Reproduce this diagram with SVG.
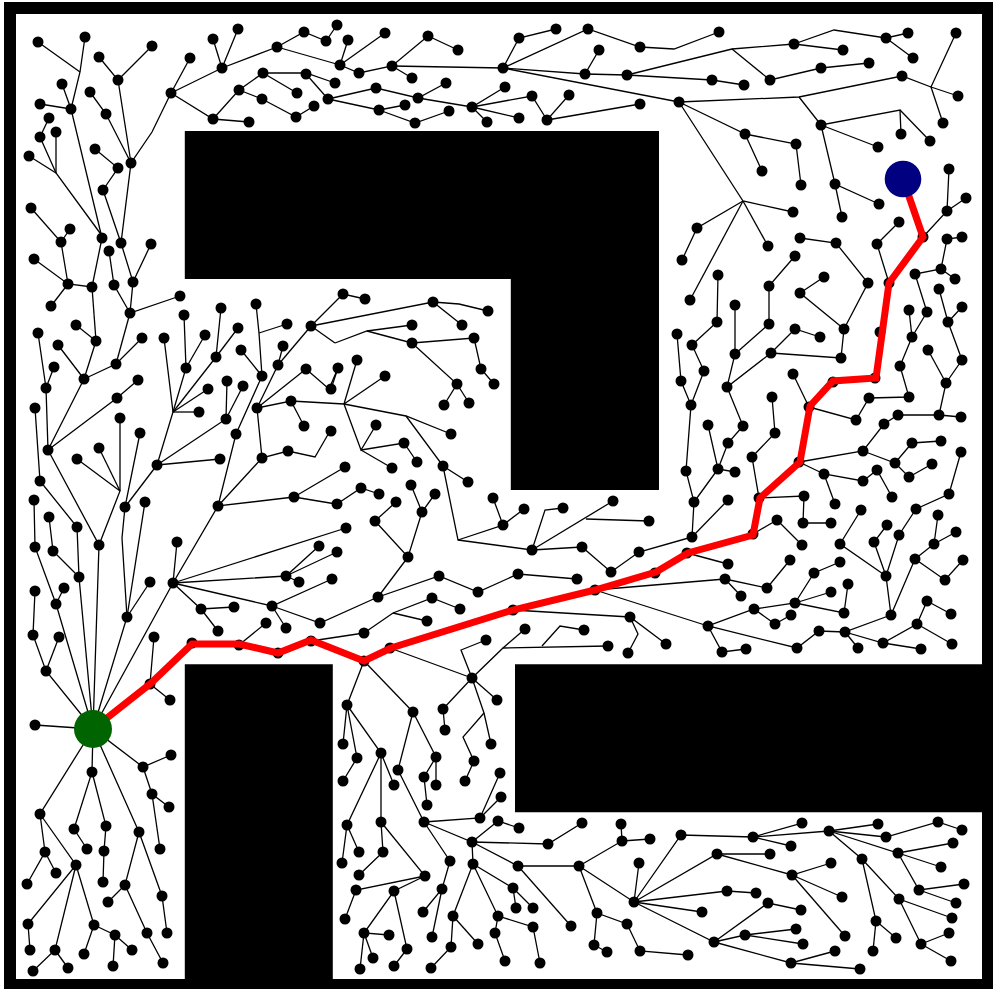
<svg xmlns="http://www.w3.org/2000/svg" width="993" height="989" viewBox="0 0 993 989">
<style>
#edges path{fill:none;stroke:#000;stroke-width:1.3}
.n circle{fill:#000}
#solution path{fill:none;stroke:#f00;stroke-width:7;stroke-linejoin:miter}
</style>
<rect width="993" height="989" fill="#fff"/>
<g id="obstacles">
<path fill="#000" fill-rule="evenodd" d="M4 2H993V989H4ZM16 14V979H982V14Z"/>
<path fill="#000" d="M184.8 131H659V490H510.8V279H184.8Z"/>
<path fill="#000" d="M184.8 664.3H332.8V979H184.8Z"/>
<path fill="#000" d="M515 664.3H993V812.3H515Z"/>
</g>
<g id="edges">
<path d="M38 42L80 72"/><path d="M85 37L80 72L71 109L102 238"/><path d="M99 57L118 80L131 163"/><path d="M152 46L118 80"/>
<path d="M62 84L71 109"/><path d="M40 104L71 109"/><path d="M90 92L106 114L131 163"/><path d="M49 118L40 137L56 173L100 233"/><path d="M56 132V173"/><path d="M29 156L56 173"/>
<path d="M95 149L118 168L103 190L121 243L131 163L152 132L171 93"/><path d="M171 93L190 58"/><path d="M171 93L222 68L277 47L304 32L326 41L337 25"/><path d="M171 93L213 119L249 122"/><path d="M222 68L213 39"/><path d="M222 68L238 29"/><path d="M277 47L340 65"/>
<path d="M213 119L239 90L263 73L297 93"/><path d="M239 90L262 99L296 117L314 106"/><path d="M263 73H306L335 83"/><path d="M306 74L328 99"/>
<path d="M31 208L61 242L68 284"/><path d="M70 229L61 242"/><path d="M34 259L68 284L92 287L102 238"/><path d="M51 306L68 284"/><path d="M92 287L96 341"/><path d="M109 251L114 285L130 313"/><path d="M121 243L133 282L130 313L180 296"/><path d="M151 244L133 282"/>
<path d="M38 333L46 388L48 450"/><path d="M54 367L46 388"/><path d="M35 408L40 481L77 527L79 577L93 729"/><path d="M58 345L84 379L96 341"/><path d="M76 325L96 341"/><path d="M84 379L116 364L142 338"/><path d="M116 364L130 313"/><path d="M84 379L48 450L117 398L138 380"/><path d="M48 450L99 545L93 729"/>
<path d="M120 418V491L99 545"/><path d="M77 459L120 491"/><path d="M99 448L120 491"/><path d="M140 433L125 507L122 538L127 617L93 729"/><path d="M157 465L125 507"/><path d="M145 502L127 617"/><path d="M150 582L127 617"/>
<path d="M34 500L35 547L56 604L93 729"/><path d="M49 517L53 551L79 577"/><path d="M35 591L33 635L46 671L93 729"/><path d="M59 637L46 671"/><path d="M64 588L56 604"/><path d="M154 637L150 684L170 700"/>
<path d="M164 338L173 412L157 465"/><path d="M184 315L186 368L173 412"/><path d="M205 335L186 368"/><path d="M216 357L173 412"/><path d="M221 308L216 357"/><path d="M238 328L216 357"/><path d="M208 389L173 412"/><path d="M199 412H173"/>
<path d="M157 465L226 419L227 381"/><path d="M243 386L226 419"/><path d="M157 465L220 459"/><path d="M241 350L262 376"/><path d="M256 304L259 333L262 376L236 434L218 506L173 583L93 729"/><path d="M259 333L287 324"/>
<path d="M283 346L278 365L257 408"/><path d="M311 326L278 365"/><path d="M306 369L257 408"/><path d="M306 369L329 389L338 368"/><path d="M257 408L291 401L304 426"/><path d="M291 401L344 404"/><path d="M257 408L262 458L288 451L315 457L330 431"/><path d="M262 458L218 506L294 497L336 504"/><path d="M294 497L345 467"/>
<path d="M173 583L177 542"/><path d="M173 583L286 576L319 546"/><path d="M286 576L337 552"/><path d="M299 582L286 576"/><path d="M173 583L272 606L332 579"/><path d="M272 606L320 623L378 597"/><path d="M173 583L346 528"/><path d="M173 583L201 609L234 607"/><path d="M201 609L218 631"/><path d="M266 623L239 645"/><path d="M286 628L272 606"/><path d="M311 641L364 633"/>
<path d="M311 326L343 294L365 299"/><path d="M311 326L433 302L462 325"/><path d="M433 302L459 304L488 311"/><path d="M335 343L311 326"/><path d="M335 343L367 331L412 325"/><path d="M367 331L412 343L474 338L481 369L494 384"/><path d="M412 343L457 384L444 405"/><path d="M457 384L469 403"/>
<path d="M344 404L357 360"/><path d="M344 404L385 376"/><path d="M344 404L406 416L451 434"/><path d="M406 416L443 466L468 482"/><path d="M443 466L458 540L503 525L493 498"/><path d="M503 525L524 509"/><path d="M458 540L532 550L545 510L563 508"/><path d="M532 550L613 501"/><path d="M586 519L649 521"/><path d="M532 550L582 547L611 572L639 552L692 537"/>
<path d="M344 404L361 450L376 425"/><path d="M361 450L404 443L417 462"/><path d="M361 450L392 468"/><path d="M337 504L361 488L379 494"/><path d="M331 389L338 368"/>
<path d="M411 485L422 512L435 494"/><path d="M422 512L408 557L375 521L396 502"/><path d="M408 557L378 597L439 576L478 592L518 574L577 579"/><path d="M364 633L393 613L432 598L460 609"/><path d="M393 613L427 621"/>
<path d="M595 590L725 579"/><path d="M595 590L708 626"/><path d="M513 610L630 617L666 644"/><path d="M630 617L638 634L628 653"/><path d="M584 630L560 626L542 646"/><path d="M608 646L503 648L472 678"/><path d="M525 629L503 648"/><path d="M486 640L461 650L472 678"/><path d="M390 648L472 678"/>
<path d="M364 661L347 705L343 744"/><path d="M364 661L413 712"/><path d="M347 705L357 758L343 781"/><path d="M347 705L381 753L394 785"/><path d="M381 753L347 825L342 863"/><path d="M347 825L359 852"/><path d="M381 753V822L383 852L359 875"/><path d="M381 822L425 876L356 890L345 919"/><path d="M425 876L394 891L364 933L389 935"/><path d="M364 933L373 958"/><path d="M364 933L360 969"/><path d="M394 891L407 949L394 966"/>
<path d="M413 712L398 770L424 822"/><path d="M413 712L436 757L436 785"/><path d="M436 757L424 777L427 805"/><path d="M424 822L480 818L500 773"/><path d="M480 818L501 797"/><path d="M424 822L472 842L498 821L519 828"/><path d="M424 822L450 861L442 889L423 912"/><path d="M442 889L432 937"/>
<path d="M472 842L548 844L582 823"/><path d="M472 842L518 866H579"/><path d="M518 866L571 926"/><path d="M472 842L473 864L453 916L451 947L431 968"/><path d="M473 864L513 888L516 908"/><path d="M513 888L533 908"/><path d="M473 864L498 916L495 933L505 961"/><path d="M498 916L533 927L540 963"/><path d="M453 916L478 944"/>
<path d="M472 678L443 709L445 730"/><path d="M472 678L497 700"/><path d="M472 678L484 713L491 744"/><path d="M484 713L463 737L474 761L465 781"/>
<path d="M579 866L622 841L621 824"/><path d="M622 841L650 839"/><path d="M579 866L634 902L639 863"/><path d="M579 866L597 913L627 924L640 951L688 955"/><path d="M597 913L594 945L607 952"/>
<path d="M634 902L681 835L753 837L802 823"/><path d="M753 837L791 846"/><path d="M753 837L829 831L878 824"/><path d="M829 831L886 837L938 822L962 830"/><path d="M829 831L898 853L953 843"/><path d="M898 853L941 867"/><path d="M898 853L919 890L964 884"/><path d="M919 890L956 903"/><path d="M829 831L862 859L899 899L952 918"/><path d="M899 899L921 944L949 933"/><path d="M921 944L951 961"/><path d="M862 859L876 921L896 938"/><path d="M876 921L873 951"/>
<path d="M634 902L717 854H770"/><path d="M717 854L792 875L831 863"/><path d="M792 875L842 897"/><path d="M792 875L845 936"/><path d="M634 902L727 891L756 893"/><path d="M634 902L702 912"/><path d="M634 902L714 942L768 903L801 910"/><path d="M714 942L745 935L796 929"/><path d="M745 935L803 944"/><path d="M714 942L791 963L835 951"/><path d="M791 963L860 969"/>
<path d="M35 725L93 729L143 767L171 755"/><path d="M143 767L152 794L169 807"/><path d="M152 794L160 849"/><path d="M93 729L92 772L74 829L87 849"/><path d="M92 772L106 826L104 851L103 882"/><path d="M93 729L139 832L125 885L108 902"/><path d="M139 832L162 896L167 933"/><path d="M125 885L147 933L163 963"/>
<path d="M93 729L40 814L45 852L27 884"/><path d="M45 852L56 873"/><path d="M40 814L76 865L28 924L30 950"/><path d="M76 865L55 950L33 971"/><path d="M55 950L68 968"/><path d="M76 865L94 925L84 954"/><path d="M94 925L115 935L132 950"/><path d="M115 935L113 966"/>
<path d="M340 65L348 40"/><path d="M340 65L385 33"/><path d="M340 65L359 73L392 66L428 36L458 50"/><path d="M392 66L412 78"/><path d="M392 66L503 68L519 38L556 29"/><path d="M503 68L588 29L640 47L674 49L719 32"/><path d="M503 68L585 74L599 50"/><path d="M585 74L627 75L732 49L794 44L843 50"/><path d="M627 75L712 80L744 85"/><path d="M503 68L679 102"/>
<path d="M328 99L376 88L418 98L446 83"/><path d="M418 98L472 107L505 87"/><path d="M328 99L379 110L405 105"/><path d="M379 110L415 123L449 111"/><path d="M472 107L532 96L547 120L569 95"/><path d="M472 107L519 118"/><path d="M472 107L487 122"/><path d="M547 120L640 104"/>
<path d="M679 102L745 134L762 171"/><path d="M745 134L796 144L801 185"/><path d="M679 102L743 201L793 212"/><path d="M743 201L768 246"/><path d="M743 201L697 228L682 260"/><path d="M743 201L690 300"/><path d="M679 102L799 97L902 76L931 87L956 33"/><path d="M931 87L958 96"/><path d="M931 87L943 123"/>
<path d="M732 49L770 80L821 68L869 63"/><path d="M794 44L834 30L886 38L908 33"/><path d="M886 38L913 58"/><path d="M799 97L821 125L900 110L901 134"/><path d="M900 110L930 141"/><path d="M821 125L878 147"/><path d="M821 125L835 184L879 204"/><path d="M835 184L842 217"/>
<path d="M949 169L947 211L923 237"/><path d="M966 198L947 211"/><path d="M899 222L877 244L889 283"/><path d="M800 238L836 243L868 283L844 329L800 293L824 277"/><path d="M795 256L769 286V324L735 354"/><path d="M718 275L717 322L692 345L704 371L691 405"/><path d="M735 305V354L727 387L771 353L795 329L820 337"/><path d="M677 334L681 381L691 405L686 471L694 502L692 537"/>
<path d="M962 237L947 239L941 269L915 274L927 312L912 337L900 366L909 397L869 398L856 420L809 407"/><path d="M941 269L955 279"/><path d="M909 310L912 337"/><path d="M939 289L948 322L962 360L946 383L939 415"/><path d="M962 307L948 322"/><path d="M928 350L946 383"/>
<path d="M708 425L718 469L694 502"/><path d="M743 426L728 443L718 469L735 472"/><path d="M727 387L743 426"/><path d="M728 500L692 537"/><path d="M771 353L841 358L844 329"/><path d="M793 374L809 407"/><path d="M772 397L775 433L752 457L759 498L804 496L803 523H831"/><path d="M777 520L753 534"/><path d="M777 520L802 545"/>
<path d="M799 462L824 474L863 481L877 470L892 497"/><path d="M824 474L835 504"/><path d="M799 462L863 451L884 424L898 415H939L961 417"/><path d="M863 451L895 463L912 443L941 441"/><path d="M895 463L909 477L932 464"/>
<path d="M961 452L949 494L916 509L899 535L886 576L891 615L915 559L945 580L963 560"/><path d="M887 525L874 542L886 576"/><path d="M861 510L840 544L886 576"/><path d="M938 515L934 544L915 559"/><path d="M956 532L934 544"/><path d="M927 601L917 624L883 643L845 632L891 615"/><path d="M951 614L927 601"/><path d="M917 624L952 644"/><path d="M883 643L921 649"/><path d="M845 632L858 648"/><path d="M845 632L819 631L797 648L708 626L754 609L795 603L814 573L840 562"/><path d="M708 626L722 652L746 649"/><path d="M754 609L775 624L791 615"/><path d="M795 603L831 592"/><path d="M795 603L844 613L848 584"/><path d="M725 579L741 596"/><path d="M725 579L767 588L790 560"/><path d="M687 553L728 564"/>
</g>
<g id="nodes">
<g class="n" id="n38-42"><circle cx="38" cy="42" r="5.5"/></g><g class="n" id="n85-37"><circle cx="85" cy="37" r="5.5"/></g><g class="n" id="n71-109"><circle cx="71" cy="109" r="5.5"/></g><g class="n" id="n99-57"><circle cx="99" cy="57" r="5.5"/></g><g class="n" id="n152-46"><circle cx="152" cy="46" r="5.5"/></g><g class="n" id="n118-80"><circle cx="118" cy="80" r="5.5"/></g><g class="n" id="n131-163"><circle cx="131" cy="163" r="5.5"/></g><g class="n" id="n62-84"><circle cx="62" cy="84" r="5.5"/></g><g class="n" id="n40-104"><circle cx="40" cy="104" r="5.5"/></g><g class="n" id="n102-238"><circle cx="102" cy="238" r="5.5"/></g><g class="n" id="n90-92"><circle cx="90" cy="92" r="5.5"/></g><g class="n" id="n106-114"><circle cx="106" cy="114" r="5.5"/></g><g class="n" id="n49-118"><circle cx="49" cy="118" r="5.5"/></g><g class="n" id="n40-137"><circle cx="40" cy="137" r="5.5"/></g><g class="n" id="n56-132"><circle cx="56" cy="132" r="5.5"/></g><g class="n" id="n29-156"><circle cx="29" cy="156" r="5.5"/></g><g class="n" id="n95-149"><circle cx="95" cy="149" r="5.5"/></g><g class="n" id="n118-168"><circle cx="118" cy="168" r="5.5"/></g><g class="n" id="n103-190"><circle cx="103" cy="190" r="5.5"/></g><g class="n" id="n121-243"><circle cx="121" cy="243" r="5.5"/></g><g class="n" id="n171-93"><circle cx="171" cy="93" r="5.5"/></g><g class="n" id="n190-58"><circle cx="190" cy="58" r="5.5"/></g><g class="n" id="n222-68"><circle cx="222" cy="68" r="5.5"/></g><g class="n" id="n213-119"><circle cx="213" cy="119" r="5.5"/></g><g class="n" id="n213-39"><circle cx="213" cy="39" r="5.5"/></g><g class="n" id="n238-29"><circle cx="238" cy="29" r="5.5"/></g><g class="n" id="n277-47"><circle cx="277" cy="47" r="5.5"/></g><g class="n" id="n304-32"><circle cx="304" cy="32" r="5.5"/></g><g class="n" id="n340-65"><circle cx="340" cy="65" r="5.5"/></g><g class="n" id="n326-41"><circle cx="326" cy="41" r="5.5"/></g><g class="n" id="n337-25"><circle cx="337" cy="25" r="5.5"/></g><g class="n" id="n249-122"><circle cx="249" cy="122" r="5.5"/></g><g class="n" id="n239-90"><circle cx="239" cy="90" r="5.5"/></g><g class="n" id="n263-73"><circle cx="263" cy="73" r="5.5"/></g><g class="n" id="n262-99"><circle cx="262" cy="99" r="5.5"/></g><g class="n" id="n296-117"><circle cx="296" cy="117" r="5.5"/></g><g class="n" id="n314-106"><circle cx="314" cy="106" r="5.5"/></g><g class="n" id="n297-93"><circle cx="297" cy="93" r="5.5"/></g><g class="n" id="n306-74"><circle cx="306" cy="74" r="5.5"/></g><g class="n" id="n335-83"><circle cx="335" cy="83" r="5.5"/></g><g class="n" id="n328-99"><circle cx="328" cy="99" r="5.5"/></g><g class="n" id="n31-208"><circle cx="31" cy="208" r="5.5"/></g><g class="n" id="n61-242"><circle cx="61" cy="242" r="5.5"/></g><g class="n" id="n70-229"><circle cx="70" cy="229" r="5.5"/></g><g class="n" id="n68-284"><circle cx="68" cy="284" r="5.5"/></g><g class="n" id="n34-259"><circle cx="34" cy="259" r="5.5"/></g><g class="n" id="n51-306"><circle cx="51" cy="306" r="5.5"/></g><g class="n" id="n92-287"><circle cx="92" cy="287" r="5.5"/></g><g class="n" id="n109-251"><circle cx="109" cy="251" r="5.5"/></g><g class="n" id="n114-285"><circle cx="114" cy="285" r="5.5"/></g><g class="n" id="n130-313"><circle cx="130" cy="313" r="5.5"/></g><g class="n" id="n133-282"><circle cx="133" cy="282" r="5.5"/></g><g class="n" id="n151-244"><circle cx="151" cy="244" r="5.5"/></g><g class="n" id="n180-296"><circle cx="180" cy="296" r="5.5"/></g>
<g class="n" id="n184-315"><circle cx="184" cy="315" r="5.5"/></g><g class="n" id="n221-308"><circle cx="221" cy="308" r="5.5"/></g><g class="n" id="n238-328"><circle cx="238" cy="328" r="5.5"/></g><g class="n" id="n256-304"><circle cx="256" cy="304" r="5.5"/></g><g class="n" id="n287-324"><circle cx="287" cy="324" r="5.5"/></g><g class="n" id="n311-326"><circle cx="311" cy="326" r="5.5"/></g><g class="n" id="n205-335"><circle cx="205" cy="335" r="5.5"/></g><g class="n" id="n164-338"><circle cx="164" cy="338" r="5.5"/></g><g class="n" id="n142-338"><circle cx="142" cy="338" r="5.5"/></g><g class="n" id="n76-325"><circle cx="76" cy="325" r="5.5"/></g><g class="n" id="n38-333"><circle cx="38" cy="333" r="5.5"/></g><g class="n" id="n46-388"><circle cx="46" cy="388" r="5.5"/></g><g class="n" id="n54-367"><circle cx="54" cy="367" r="5.5"/></g><g class="n" id="n48-450"><circle cx="48" cy="450" r="5.5"/></g><g class="n" id="n35-408"><circle cx="35" cy="408" r="5.5"/></g><g class="n" id="n40-481"><circle cx="40" cy="481" r="5.5"/></g><g class="n" id="n77-527"><circle cx="77" cy="527" r="5.5"/></g><g class="n" id="n79-577"><circle cx="79" cy="577" r="5.5"/></g><g class="n" id="n58-345"><circle cx="58" cy="345" r="5.5"/></g><g class="n" id="n84-379"><circle cx="84" cy="379" r="5.5"/></g><g class="n" id="n96-341"><circle cx="96" cy="341" r="5.5"/></g><g class="n" id="n116-364"><circle cx="116" cy="364" r="5.5"/></g><g class="n" id="n117-398"><circle cx="117" cy="398" r="5.5"/></g><g class="n" id="n138-380"><circle cx="138" cy="380" r="5.5"/></g><g class="n" id="n99-545"><circle cx="99" cy="545" r="5.5"/></g><g class="n" id="n120-418"><circle cx="120" cy="418" r="5.5"/></g><g class="n" id="n77-459"><circle cx="77" cy="459" r="5.5"/></g><g class="n" id="n99-448"><circle cx="99" cy="448" r="5.5"/></g><g class="n" id="n140-433"><circle cx="140" cy="433" r="5.5"/></g><g class="n" id="n125-507"><circle cx="125" cy="507" r="5.5"/></g><g class="n" id="n157-465"><circle cx="157" cy="465" r="5.5"/></g><g class="n" id="n127-617"><circle cx="127" cy="617" r="5.5"/></g><g class="n" id="n145-502"><circle cx="145" cy="502" r="5.5"/></g><g class="n" id="n150-582"><circle cx="150" cy="582" r="5.5"/></g><g class="n" id="n34-500"><circle cx="34" cy="500" r="5.5"/></g><g class="n" id="n35-547"><circle cx="35" cy="547" r="5.5"/></g><g class="n" id="n56-604"><circle cx="56" cy="604" r="5.5"/></g><g class="n" id="n49-517"><circle cx="49" cy="517" r="5.5"/></g><g class="n" id="n53-551"><circle cx="53" cy="551" r="5.5"/></g><g class="n" id="n35-591"><circle cx="35" cy="591" r="5.5"/></g><g class="n" id="n33-635"><circle cx="33" cy="635" r="5.5"/></g><g class="n" id="n46-671"><circle cx="46" cy="671" r="5.5"/></g><g class="n" id="n59-637"><circle cx="59" cy="637" r="5.5"/></g><g class="n" id="n64-588"><circle cx="64" cy="588" r="5.5"/></g><g class="n" id="n154-637"><circle cx="154" cy="637" r="5.5"/></g><g class="n" id="n150-684"><circle cx="150" cy="684" r="5.5"/></g><g class="n" id="n170-700"><circle cx="170" cy="700" r="5.5"/></g><g class="n" id="n186-368"><circle cx="186" cy="368" r="5.5"/></g><g class="n" id="n216-357"><circle cx="216" cy="357" r="5.5"/></g><g class="n" id="n208-389"><circle cx="208" cy="389" r="5.5"/></g><g class="n" id="n199-412"><circle cx="199" cy="412" r="5.5"/></g><g class="n" id="n226-419"><circle cx="226" cy="419" r="5.5"/></g><g class="n" id="n227-381"><circle cx="227" cy="381" r="5.5"/></g><g class="n" id="n243-386"><circle cx="243" cy="386" r="5.5"/></g><g class="n" id="n220-459"><circle cx="220" cy="459" r="5.5"/></g><g class="n" id="n241-350"><circle cx="241" cy="350" r="5.5"/></g><g class="n" id="n262-376"><circle cx="262" cy="376" r="5.5"/></g><g class="n" id="n236-434"><circle cx="236" cy="434" r="5.5"/></g><g class="n" id="n218-506"><circle cx="218" cy="506" r="5.5"/></g><g class="n" id="n283-346"><circle cx="283" cy="346" r="5.5"/></g><g class="n" id="n278-365"><circle cx="278" cy="365" r="5.5"/></g><g class="n" id="n257-408"><circle cx="257" cy="408" r="5.5"/></g><g class="n" id="n306-369"><circle cx="306" cy="369" r="5.5"/></g><g class="n" id="n329-389"><circle cx="331" cy="389" r="5.5"/></g><g class="n" id="n338-368"><circle cx="338" cy="368" r="5.5"/></g><g class="n" id="n291-401"><circle cx="291" cy="401" r="5.5"/></g><g class="n" id="n304-426"><circle cx="304" cy="426" r="5.5"/></g><g class="n" id="n262-458"><circle cx="262" cy="458" r="5.5"/></g><g class="n" id="n288-451"><circle cx="288" cy="451" r="5.5"/></g><g class="n" id="n330-431"><circle cx="331" cy="431" r="5.5"/></g><g class="n" id="n294-497"><circle cx="294" cy="497" r="5.5"/></g><g class="n" id="n336-504"><circle cx="337" cy="504" r="5.5"/></g><g class="n" id="n345-467"><circle cx="345" cy="467" r="5.5"/></g><g class="n" id="n173-583"><circle cx="173" cy="583" r="5.5"/></g><g class="n" id="n177-542"><circle cx="177" cy="542" r="5.5"/></g><g class="n" id="n286-576"><circle cx="286" cy="576" r="5.5"/></g><g class="n" id="n272-606"><circle cx="272" cy="606" r="5.5"/></g><g class="n" id="n201-609"><circle cx="201" cy="609" r="5.5"/></g><g class="n" id="n346-528"><circle cx="346" cy="528" r="5.5"/></g><g class="n" id="n319-546"><circle cx="319" cy="546" r="5.5"/></g><g class="n" id="n337-552"><circle cx="337" cy="552" r="5.5"/></g><g class="n" id="n299-582"><circle cx="299" cy="582" r="5.5"/></g><g class="n" id="n332-579"><circle cx="332" cy="579" r="5.5"/></g><g class="n" id="n320-623"><circle cx="320" cy="623" r="5.5"/></g><g class="n" id="n234-607"><circle cx="234" cy="607" r="5.5"/></g><g class="n" id="n218-631"><circle cx="218" cy="631" r="5.5"/></g><g class="n" id="n266-623"><circle cx="266" cy="623" r="5.5"/></g><g class="n" id="n286-628"><circle cx="286" cy="628" r="5.5"/></g><g class="n" id="n192-643"><circle cx="192" cy="643" r="5.5"/></g><g class="n" id="n239-645"><circle cx="239" cy="645" r="5.5"/></g><g class="n" id="n278-653"><circle cx="278" cy="653" r="5.5"/></g><g class="n" id="n311-641"><circle cx="311" cy="641" r="5.5"/></g>
<g class="n" id="n412-343"><circle cx="412" cy="343" r="5.5"/></g><g class="n" id="n474-338"><circle cx="474" cy="338" r="5.5"/></g><g class="n" id="n481-369"><circle cx="481" cy="369" r="5.5"/></g><g class="n" id="n494-384"><circle cx="494" cy="384" r="5.5"/></g><g class="n" id="n457-384"><circle cx="457" cy="384" r="5.5"/></g><g class="n" id="n444-405"><circle cx="444" cy="405" r="5.5"/></g><g class="n" id="n469-403"><circle cx="469" cy="403" r="5.5"/></g><g class="n" id="n412-325"><circle cx="412" cy="325" r="5.5"/></g><g class="n" id="n433-302"><circle cx="433" cy="302" r="5.5"/></g><g class="n" id="n462-325"><circle cx="462" cy="325" r="5.5"/></g><g class="n" id="n488-311"><circle cx="488" cy="311" r="5.5"/></g><g class="n" id="n343-294"><circle cx="343" cy="294" r="5.5"/></g><g class="n" id="n365-299"><circle cx="365" cy="299" r="5.5"/></g><g class="n" id="n357-360"><circle cx="357" cy="360" r="5.5"/></g><g class="n" id="n385-376"><circle cx="385" cy="376" r="5.5"/></g><g class="n" id="n451-434"><circle cx="451" cy="434" r="5.5"/></g><g class="n" id="n443-466"><circle cx="443" cy="466" r="5.5"/></g><g class="n" id="n468-482"><circle cx="468" cy="482" r="5.5"/></g><g class="n" id="n503-525"><circle cx="503" cy="525" r="5.5"/></g><g class="n" id="n493-498"><circle cx="493" cy="498" r="5.5"/></g><g class="n" id="n524-509"><circle cx="524" cy="509" r="5.5"/></g><g class="n" id="n532-550"><circle cx="532" cy="550" r="5.5"/></g><g class="n" id="n563-508"><circle cx="563" cy="508" r="5.5"/></g><g class="n" id="n613-501"><circle cx="613" cy="501" r="5.5"/></g><g class="n" id="n649-521"><circle cx="649" cy="521" r="5.5"/></g><g class="n" id="n582-547"><circle cx="582" cy="547" r="5.5"/></g><g class="n" id="n611-572"><circle cx="611" cy="572" r="5.5"/></g><g class="n" id="n639-552"><circle cx="639" cy="552" r="5.5"/></g><g class="n" id="n692-537"><circle cx="692" cy="537" r="5.5"/></g><g class="n" id="n376-425"><circle cx="376" cy="425" r="5.5"/></g><g class="n" id="n404-443"><circle cx="404" cy="443" r="5.5"/></g><g class="n" id="n417-462"><circle cx="417" cy="462" r="5.5"/></g><g class="n" id="n392-468"><circle cx="392" cy="468" r="5.5"/></g><g class="n" id="n361-488"><circle cx="361" cy="488" r="5.5"/></g><g class="n" id="n379-494"><circle cx="379" cy="494" r="5.5"/></g><g class="n" id="n411-485"><circle cx="411" cy="485" r="5.5"/></g><g class="n" id="n435-494"><circle cx="435" cy="494" r="5.5"/></g><g class="n" id="n422-512"><circle cx="422" cy="512" r="5.5"/></g><g class="n" id="n408-557"><circle cx="408" cy="557" r="5.5"/></g><g class="n" id="n396-502"><circle cx="396" cy="502" r="5.5"/></g><g class="n" id="n375-521"><circle cx="375" cy="521" r="5.5"/></g><g class="n" id="n378-597"><circle cx="378" cy="597" r="5.5"/></g><g class="n" id="n439-576"><circle cx="439" cy="576" r="5.5"/></g><g class="n" id="n478-592"><circle cx="478" cy="592" r="5.5"/></g><g class="n" id="n518-574"><circle cx="518" cy="574" r="5.5"/></g><g class="n" id="n577-579"><circle cx="577" cy="579" r="5.5"/></g><g class="n" id="n364-633"><circle cx="364" cy="633" r="5.5"/></g><g class="n" id="n432-598"><circle cx="432" cy="598" r="5.5"/></g><g class="n" id="n460-609"><circle cx="460" cy="609" r="5.5"/></g><g class="n" id="n427-621"><circle cx="427" cy="621" r="5.5"/></g><g class="n" id="n364-661"><circle cx="364" cy="661" r="5.5"/></g><g class="n" id="n390-648"><circle cx="390" cy="648" r="5.5"/></g><g class="n" id="n513-610"><circle cx="513" cy="610" r="5.5"/></g><g class="n" id="n595-590"><circle cx="595" cy="590" r="5.5"/></g><g class="n" id="n655-573"><circle cx="655" cy="573" r="5.5"/></g><g class="n" id="n725-579"><circle cx="725" cy="579" r="5.5"/></g><g class="n" id="n708-626"><circle cx="708" cy="626" r="5.5"/></g><g class="n" id="n630-617"><circle cx="630" cy="617" r="5.5"/></g><g class="n" id="n628-653"><circle cx="628" cy="653" r="5.5"/></g><g class="n" id="n666-644"><circle cx="666" cy="644" r="5.5"/></g><g class="n" id="n584-630"><circle cx="584" cy="630" r="5.5"/></g><g class="n" id="n608-646"><circle cx="608" cy="646" r="5.5"/></g><g class="n" id="n525-629"><circle cx="525" cy="629" r="5.5"/></g><g class="n" id="n486-640"><circle cx="486" cy="640" r="5.5"/></g><g class="n" id="n472-678"><circle cx="472" cy="678" r="5.5"/></g>
<g class="n" id="n347-705"><circle cx="347" cy="705" r="5.5"/></g><g class="n" id="n413-712"><circle cx="413" cy="712" r="5.5"/></g><g class="n" id="n343-744"><circle cx="343" cy="744" r="5.5"/></g><g class="n" id="n357-758"><circle cx="357" cy="758" r="5.5"/></g><g class="n" id="n343-781"><circle cx="343" cy="781" r="5.5"/></g><g class="n" id="n381-753"><circle cx="381" cy="753" r="5.5"/></g><g class="n" id="n394-785"><circle cx="394" cy="785" r="5.5"/></g><g class="n" id="n347-825"><circle cx="347" cy="825" r="5.5"/></g><g class="n" id="n381-822"><circle cx="381" cy="822" r="5.5"/></g><g class="n" id="n342-863"><circle cx="342" cy="863" r="5.5"/></g><g class="n" id="n359-852"><circle cx="359" cy="852" r="5.5"/></g><g class="n" id="n383-852"><circle cx="383" cy="852" r="5.5"/></g><g class="n" id="n359-875"><circle cx="359" cy="875" r="5.5"/></g><g class="n" id="n425-876"><circle cx="425" cy="876" r="5.5"/></g><g class="n" id="n356-890"><circle cx="356" cy="890" r="5.5"/></g><g class="n" id="n345-919"><circle cx="345" cy="919" r="5.5"/></g><g class="n" id="n394-891"><circle cx="394" cy="891" r="5.5"/></g><g class="n" id="n364-933"><circle cx="364" cy="933" r="5.5"/></g><g class="n" id="n389-935"><circle cx="389" cy="935" r="5.5"/></g><g class="n" id="n373-958"><circle cx="373" cy="958" r="5.5"/></g><g class="n" id="n360-969"><circle cx="360" cy="969" r="5.5"/></g><g class="n" id="n407-949"><circle cx="407" cy="949" r="5.5"/></g><g class="n" id="n394-966"><circle cx="394" cy="966" r="5.5"/></g><g class="n" id="n398-770"><circle cx="398" cy="770" r="5.5"/></g><g class="n" id="n436-757"><circle cx="436" cy="757" r="5.5"/></g><g class="n" id="n424-777"><circle cx="424" cy="777" r="5.5"/></g><g class="n" id="n436-785"><circle cx="436" cy="785" r="5.5"/></g><g class="n" id="n427-805"><circle cx="427" cy="805" r="5.5"/></g><g class="n" id="n424-822"><circle cx="424" cy="822" r="5.5"/></g><g class="n" id="n480-818"><circle cx="480" cy="818" r="5.5"/></g><g class="n" id="n500-773"><circle cx="500" cy="773" r="5.5"/></g><g class="n" id="n501-797"><circle cx="501" cy="797" r="5.5"/></g><g class="n" id="n472-842"><circle cx="472" cy="842" r="5.5"/></g><g class="n" id="n450-861"><circle cx="450" cy="861" r="5.5"/></g><g class="n" id="n442-889"><circle cx="442" cy="889" r="5.5"/></g><g class="n" id="n423-912"><circle cx="423" cy="912" r="5.5"/></g><g class="n" id="n432-937"><circle cx="432" cy="937" r="5.5"/></g><g class="n" id="n498-821"><circle cx="498" cy="821" r="5.5"/></g><g class="n" id="n519-828"><circle cx="519" cy="828" r="5.5"/></g><g class="n" id="n548-844"><circle cx="548" cy="844" r="5.5"/></g><g class="n" id="n582-823"><circle cx="582" cy="823" r="5.5"/></g><g class="n" id="n518-866"><circle cx="518" cy="866" r="5.5"/></g><g class="n" id="n579-866"><circle cx="579" cy="866" r="5.5"/></g><g class="n" id="n571-926"><circle cx="571" cy="926" r="5.5"/></g><g class="n" id="n473-864"><circle cx="473" cy="864" r="5.5"/></g><g class="n" id="n453-916"><circle cx="453" cy="916" r="5.5"/></g><g class="n" id="n513-888"><circle cx="513" cy="888" r="5.5"/></g><g class="n" id="n498-916"><circle cx="498" cy="916" r="5.5"/></g><g class="n" id="n451-947"><circle cx="451" cy="947" r="5.5"/></g><g class="n" id="n431-968"><circle cx="431" cy="968" r="5.5"/></g><g class="n" id="n478-944"><circle cx="478" cy="944" r="5.5"/></g><g class="n" id="n516-908"><circle cx="516" cy="908" r="5.5"/></g><g class="n" id="n533-908"><circle cx="533" cy="908" r="5.5"/></g><g class="n" id="n495-933"><circle cx="495" cy="933" r="5.5"/></g><g class="n" id="n505-961"><circle cx="505" cy="961" r="5.5"/></g><g class="n" id="n533-927"><circle cx="533" cy="927" r="5.5"/></g><g class="n" id="n540-963"><circle cx="540" cy="963" r="5.5"/></g><g class="n" id="n443-709"><circle cx="443" cy="709" r="5.5"/></g><g class="n" id="n445-730"><circle cx="445" cy="730" r="5.5"/></g><g class="n" id="n497-700"><circle cx="497" cy="700" r="5.5"/></g><g class="n" id="n491-744"><circle cx="491" cy="744" r="5.5"/></g><g class="n" id="n474-761"><circle cx="474" cy="761" r="5.5"/></g><g class="n" id="n465-781"><circle cx="465" cy="781" r="5.5"/></g><g class="n" id="n621-824"><circle cx="621" cy="824" r="5.5"/></g><g class="n" id="n622-841"><circle cx="622" cy="841" r="5.5"/></g><g class="n" id="n650-839"><circle cx="650" cy="839" r="5.5"/></g><g class="n" id="n634-902"><circle cx="634" cy="902" r="5.5"/></g><g class="n" id="n597-913"><circle cx="597" cy="913" r="5.5"/></g><g class="n" id="n627-924"><circle cx="627" cy="924" r="5.5"/></g><g class="n" id="n594-945"><circle cx="594" cy="945" r="5.5"/></g><g class="n" id="n607-952"><circle cx="607" cy="952" r="5.5"/></g><g class="n" id="n640-951"><circle cx="640" cy="951" r="5.5"/></g><g class="n" id="n688-955"><circle cx="688" cy="955" r="5.5"/></g><g class="n" id="n639-863"><circle cx="639" cy="863" r="5.5"/></g><g class="n" id="n681-835"><circle cx="681" cy="835" r="5.5"/></g><g class="n" id="n717-854"><circle cx="717" cy="854" r="5.5"/></g><g class="n" id="n727-891"><circle cx="727" cy="891" r="5.5"/></g><g class="n" id="n702-912"><circle cx="702" cy="912" r="5.5"/></g><g class="n" id="n714-942"><circle cx="714" cy="942" r="5.5"/></g><g class="n" id="n753-837"><circle cx="753" cy="837" r="5.5"/></g><g class="n" id="n802-823"><circle cx="802" cy="823" r="5.5"/></g><g class="n" id="n791-846"><circle cx="791" cy="846" r="5.5"/></g><g class="n" id="n829-831"><circle cx="829" cy="831" r="5.5"/></g><g class="n" id="n878-824"><circle cx="878" cy="824" r="5.5"/></g><g class="n" id="n886-837"><circle cx="886" cy="837" r="5.5"/></g><g class="n" id="n898-853"><circle cx="898" cy="853" r="5.5"/></g><g class="n" id="n862-859"><circle cx="862" cy="859" r="5.5"/></g><g class="n" id="n938-822"><circle cx="938" cy="822" r="5.5"/></g><g class="n" id="n962-830"><circle cx="962" cy="830" r="5.5"/></g><g class="n" id="n953-843"><circle cx="953" cy="843" r="5.5"/></g><g class="n" id="n941-867"><circle cx="941" cy="867" r="5.5"/></g><g class="n" id="n919-890"><circle cx="919" cy="890" r="5.5"/></g><g class="n" id="n964-884"><circle cx="964" cy="884" r="5.5"/></g><g class="n" id="n956-903"><circle cx="956" cy="903" r="5.5"/></g><g class="n" id="n899-899"><circle cx="899" cy="899" r="5.5"/></g><g class="n" id="n876-921"><circle cx="876" cy="921" r="5.5"/></g><g class="n" id="n952-918"><circle cx="952" cy="918" r="5.5"/></g><g class="n" id="n921-944"><circle cx="921" cy="944" r="5.5"/></g><g class="n" id="n949-933"><circle cx="949" cy="933" r="5.5"/></g><g class="n" id="n951-961"><circle cx="951" cy="961" r="5.5"/></g><g class="n" id="n896-938"><circle cx="896" cy="938" r="5.5"/></g><g class="n" id="n873-951"><circle cx="873" cy="951" r="5.5"/></g><g class="n" id="n770-854"><circle cx="770" cy="854" r="5.5"/></g><g class="n" id="n792-875"><circle cx="792" cy="875" r="5.5"/></g><g class="n" id="n831-863"><circle cx="831" cy="863" r="5.5"/></g><g class="n" id="n842-897"><circle cx="842" cy="897" r="5.5"/></g><g class="n" id="n845-936"><circle cx="845" cy="936" r="5.5"/></g><g class="n" id="n756-893"><circle cx="756" cy="893" r="5.5"/></g><g class="n" id="n768-903"><circle cx="768" cy="903" r="5.5"/></g><g class="n" id="n801-910"><circle cx="801" cy="910" r="5.5"/></g><g class="n" id="n745-935"><circle cx="745" cy="935" r="5.5"/></g><g class="n" id="n796-929"><circle cx="796" cy="929" r="5.5"/></g><g class="n" id="n803-944"><circle cx="803" cy="944" r="5.5"/></g><g class="n" id="n791-963"><circle cx="791" cy="963" r="5.5"/></g><g class="n" id="n835-951"><circle cx="835" cy="951" r="5.5"/></g><g class="n" id="n860-969"><circle cx="860" cy="969" r="5.5"/></g>
<g class="n" id="n35-725"><circle cx="35" cy="725" r="5.5"/></g><g class="n" id="n143-767"><circle cx="143" cy="767" r="5.5"/></g><g class="n" id="n171-755"><circle cx="171" cy="755" r="5.5"/></g><g class="n" id="n152-794"><circle cx="152" cy="794" r="5.5"/></g><g class="n" id="n169-807"><circle cx="169" cy="807" r="5.5"/></g><g class="n" id="n160-849"><circle cx="160" cy="849" r="5.5"/></g><g class="n" id="n92-772"><circle cx="92" cy="772" r="5.5"/></g><g class="n" id="n74-829"><circle cx="74" cy="829" r="5.5"/></g><g class="n" id="n87-849"><circle cx="87" cy="849" r="5.5"/></g><g class="n" id="n106-826"><circle cx="106" cy="826" r="5.5"/></g><g class="n" id="n104-851"><circle cx="104" cy="851" r="5.5"/></g><g class="n" id="n103-882"><circle cx="103" cy="882" r="5.5"/></g><g class="n" id="n139-832"><circle cx="139" cy="832" r="5.5"/></g><g class="n" id="n125-885"><circle cx="125" cy="885" r="5.5"/></g><g class="n" id="n162-896"><circle cx="162" cy="896" r="5.5"/></g><g class="n" id="n167-933"><circle cx="167" cy="933" r="5.5"/></g><g class="n" id="n108-902"><circle cx="108" cy="902" r="5.5"/></g><g class="n" id="n147-933"><circle cx="147" cy="933" r="5.5"/></g><g class="n" id="n163-963"><circle cx="163" cy="963" r="5.5"/></g><g class="n" id="n40-814"><circle cx="40" cy="814" r="5.5"/></g><g class="n" id="n45-852"><circle cx="45" cy="852" r="5.5"/></g><g class="n" id="n76-865"><circle cx="76" cy="865" r="5.5"/></g><g class="n" id="n27-884"><circle cx="27" cy="884" r="5.5"/></g><g class="n" id="n56-873"><circle cx="56" cy="873" r="5.5"/></g><g class="n" id="n28-924"><circle cx="28" cy="924" r="5.5"/></g><g class="n" id="n30-950"><circle cx="30" cy="950" r="5.5"/></g><g class="n" id="n55-950"><circle cx="55" cy="950" r="5.5"/></g><g class="n" id="n33-971"><circle cx="33" cy="971" r="5.5"/></g><g class="n" id="n68-968"><circle cx="68" cy="968" r="5.5"/></g><g class="n" id="n94-925"><circle cx="94" cy="925" r="5.5"/></g><g class="n" id="n84-954"><circle cx="84" cy="954" r="5.5"/></g><g class="n" id="n115-935"><circle cx="115" cy="935" r="5.5"/></g><g class="n" id="n132-950"><circle cx="132" cy="950" r="5.5"/></g><g class="n" id="n113-966"><circle cx="113" cy="966" r="5.5"/></g>
<g class="n" id="n348-40"><circle cx="348" cy="40" r="5.5"/></g><g class="n" id="n385-33"><circle cx="385" cy="33" r="5.5"/></g><g class="n" id="n359-73"><circle cx="359" cy="73" r="5.5"/></g><g class="n" id="n392-66"><circle cx="392" cy="66" r="5.5"/></g><g class="n" id="n428-36"><circle cx="428" cy="36" r="5.5"/></g><g class="n" id="n458-50"><circle cx="458" cy="50" r="5.5"/></g><g class="n" id="n412-78"><circle cx="412" cy="78" r="5.5"/></g><g class="n" id="n503-68"><circle cx="503" cy="68" r="5.5"/></g><g class="n" id="n519-38"><circle cx="519" cy="38" r="5.5"/></g><g class="n" id="n556-29"><circle cx="556" cy="29" r="5.5"/></g><g class="n" id="n588-29"><circle cx="588" cy="29" r="5.5"/></g><g class="n" id="n640-47"><circle cx="640" cy="47" r="5.5"/></g><g class="n" id="n719-32"><circle cx="719" cy="32" r="5.5"/></g><g class="n" id="n585-74"><circle cx="585" cy="74" r="5.5"/></g><g class="n" id="n599-50"><circle cx="599" cy="50" r="5.5"/></g><g class="n" id="n627-75"><circle cx="627" cy="75" r="5.5"/></g><g class="n" id="n712-80"><circle cx="712" cy="80" r="5.5"/></g><g class="n" id="n744-85"><circle cx="744" cy="85" r="5.5"/></g><g class="n" id="n679-102"><circle cx="679" cy="102" r="5.5"/></g><g class="n" id="n376-88"><circle cx="376" cy="88" r="5.5"/></g><g class="n" id="n418-98"><circle cx="418" cy="98" r="5.5"/></g><g class="n" id="n446-83"><circle cx="446" cy="83" r="5.5"/></g><g class="n" id="n379-110"><circle cx="379" cy="110" r="5.5"/></g><g class="n" id="n405-105"><circle cx="405" cy="105" r="5.5"/></g><g class="n" id="n415-123"><circle cx="415" cy="123" r="5.5"/></g><g class="n" id="n449-111"><circle cx="449" cy="111" r="5.5"/></g><g class="n" id="n472-107"><circle cx="472" cy="107" r="5.5"/></g><g class="n" id="n505-87"><circle cx="505" cy="87" r="5.5"/></g><g class="n" id="n532-96"><circle cx="532" cy="96" r="5.5"/></g><g class="n" id="n519-118"><circle cx="519" cy="118" r="5.5"/></g><g class="n" id="n487-122"><circle cx="487" cy="122" r="5.5"/></g><g class="n" id="n547-120"><circle cx="547" cy="120" r="5.5"/></g><g class="n" id="n569-95"><circle cx="569" cy="95" r="5.5"/></g><g class="n" id="n640-104"><circle cx="640" cy="104" r="5.5"/></g><g class="n" id="n745-134"><circle cx="745" cy="134" r="5.5"/></g><g class="n" id="n762-171"><circle cx="762" cy="171" r="5.5"/></g><g class="n" id="n796-144"><circle cx="796" cy="144" r="5.5"/></g><g class="n" id="n801-185"><circle cx="801" cy="185" r="5.5"/></g><g class="n" id="n793-212"><circle cx="793" cy="212" r="5.5"/></g><g class="n" id="n768-246"><circle cx="768" cy="246" r="5.5"/></g><g class="n" id="n697-228"><circle cx="697" cy="228" r="5.5"/></g><g class="n" id="n682-260"><circle cx="682" cy="260" r="5.5"/></g><g class="n" id="n690-300"><circle cx="690" cy="300" r="5.5"/></g><g class="n" id="n794-44"><circle cx="794" cy="44" r="5.5"/></g><g class="n" id="n770-80"><circle cx="770" cy="80" r="5.5"/></g><g class="n" id="n843-50"><circle cx="843" cy="50" r="5.5"/></g><g class="n" id="n886-38"><circle cx="886" cy="38" r="5.5"/></g><g class="n" id="n908-33"><circle cx="908" cy="33" r="5.5"/></g><g class="n" id="n913-58"><circle cx="913" cy="58" r="5.5"/></g><g class="n" id="n821-68"><circle cx="821" cy="68" r="5.5"/></g><g class="n" id="n869-63"><circle cx="869" cy="63" r="5.5"/></g><g class="n" id="n902-76"><circle cx="902" cy="76" r="5.5"/></g><g class="n" id="n956-33"><circle cx="956" cy="33" r="5.5"/></g><g class="n" id="n958-96"><circle cx="958" cy="96" r="5.5"/></g><g class="n" id="n943-123"><circle cx="943" cy="123" r="5.5"/></g><g class="n" id="n821-125"><circle cx="821" cy="125" r="5.5"/></g><g class="n" id="n901-134"><circle cx="901" cy="134" r="5.5"/></g><g class="n" id="n930-141"><circle cx="930" cy="141" r="5.5"/></g><g class="n" id="n878-147"><circle cx="878" cy="147" r="5.5"/></g><g class="n" id="n835-184"><circle cx="835" cy="184" r="5.5"/></g><g class="n" id="n879-204"><circle cx="879" cy="204" r="5.5"/></g><g class="n" id="n842-217"><circle cx="842" cy="217" r="5.5"/></g><g class="n" id="n949-169"><circle cx="949" cy="169" r="5.5"/></g><g class="n" id="n947-211"><circle cx="947" cy="211" r="5.5"/></g><g class="n" id="n966-198"><circle cx="966" cy="198" r="5.5"/></g><g class="n" id="n923-237"><circle cx="923" cy="237" r="5.5"/></g><g class="n" id="n899-222"><circle cx="899" cy="222" r="5.5"/></g><g class="n" id="n877-244"><circle cx="877" cy="244" r="5.5"/></g><g class="n" id="n889-283"><circle cx="889" cy="283" r="5.5"/></g><g class="n" id="n800-238"><circle cx="800" cy="238" r="5.5"/></g><g class="n" id="n836-243"><circle cx="836" cy="243" r="5.5"/></g><g class="n" id="n868-283"><circle cx="868" cy="283" r="5.5"/></g><g class="n" id="n844-329"><circle cx="844" cy="329" r="5.5"/></g><g class="n" id="n795-256"><circle cx="795" cy="256" r="5.5"/></g><g class="n" id="n769-286"><circle cx="769" cy="286" r="5.5"/></g><g class="n" id="n769-324"><circle cx="769" cy="324" r="5.5"/></g><g class="n" id="n824-277"><circle cx="824" cy="277" r="5.5"/></g><g class="n" id="n800-293"><circle cx="800" cy="293" r="5.5"/></g><g class="n" id="n718-275"><circle cx="718" cy="275" r="5.5"/></g><g class="n" id="n717-322"><circle cx="717" cy="322" r="5.5"/></g><g class="n" id="n735-305"><circle cx="735" cy="305" r="5.5"/></g><g class="n" id="n735-354"><circle cx="735" cy="354" r="5.5"/></g><g class="n" id="n677-334"><circle cx="677" cy="334" r="5.5"/></g><g class="n" id="n947-239"><circle cx="947" cy="239" r="5.5"/></g><g class="n" id="n962-237"><circle cx="962" cy="237" r="5.5"/></g><g class="n" id="n941-269"><circle cx="941" cy="269" r="5.5"/></g><g class="n" id="n955-279"><circle cx="955" cy="279" r="5.5"/></g><g class="n" id="n915-274"><circle cx="915" cy="274" r="5.5"/></g><g class="n" id="n939-289"><circle cx="939" cy="289" r="5.5"/></g><g class="n" id="n962-307"><circle cx="962" cy="307" r="5.5"/></g><g class="n" id="n948-322"><circle cx="948" cy="322" r="5.5"/></g><g class="n" id="n909-310"><circle cx="909" cy="310" r="5.5"/></g><g class="n" id="n927-312"><circle cx="927" cy="312" r="5.5"/></g><g class="n" id="n912-337"><circle cx="912" cy="337" r="5.5"/></g><g class="n" id="n880-332"><circle cx="880" cy="332" r="5.5"/></g><g class="n" id="n795-329"><circle cx="795" cy="329" r="5.5"/></g><g class="n" id="n820-337"><circle cx="820" cy="337" r="5.5"/></g>
<g class="n" id="n692-345"><circle cx="692" cy="345" r="5.5"/></g><g class="n" id="n681-381"><circle cx="681" cy="381" r="5.5"/></g><g class="n" id="n704-371"><circle cx="704" cy="371" r="5.5"/></g><g class="n" id="n691-405"><circle cx="691" cy="405" r="5.5"/></g><g class="n" id="n686-471"><circle cx="686" cy="471" r="5.5"/></g><g class="n" id="n694-502"><circle cx="694" cy="502" r="5.5"/></g><g class="n" id="n708-425"><circle cx="708" cy="425" r="5.5"/></g><g class="n" id="n718-469"><circle cx="718" cy="469" r="5.5"/></g><g class="n" id="n743-426"><circle cx="743" cy="426" r="5.5"/></g><g class="n" id="n728-443"><circle cx="728" cy="443" r="5.5"/></g><g class="n" id="n735-472"><circle cx="735" cy="472" r="5.5"/></g><g class="n" id="n728-500"><circle cx="728" cy="500" r="5.5"/></g><g class="n" id="n727-387"><circle cx="727" cy="387" r="5.5"/></g><g class="n" id="n771-353"><circle cx="771" cy="353" r="5.5"/></g><g class="n" id="n841-358"><circle cx="841" cy="358" r="5.5"/></g><g class="n" id="n793-374"><circle cx="793" cy="374" r="5.5"/></g><g class="n" id="n809-407"><circle cx="809" cy="407" r="5.5"/></g><g class="n" id="n772-397"><circle cx="772" cy="397" r="5.5"/></g><g class="n" id="n775-433"><circle cx="775" cy="433" r="5.5"/></g><g class="n" id="n752-457"><circle cx="752" cy="457" r="5.5"/></g><g class="n" id="n759-498"><circle cx="759" cy="498" r="5.5"/></g><g class="n" id="n804-496"><circle cx="804" cy="496" r="5.5"/></g><g class="n" id="n803-523"><circle cx="803" cy="523" r="5.5"/></g><g class="n" id="n831-524"><circle cx="831" cy="523" r="5.5"/></g><g class="n" id="n777-520"><circle cx="777" cy="520" r="5.5"/></g><g class="n" id="n753-534"><circle cx="753" cy="534" r="5.5"/></g><g class="n" id="n802-545"><circle cx="802" cy="545" r="5.5"/></g><g class="n" id="n799-462"><circle cx="799" cy="462" r="5.5"/></g><g class="n" id="n824-474"><circle cx="824" cy="474" r="5.5"/></g><g class="n" id="n863-451"><circle cx="863" cy="451" r="5.5"/></g><g class="n" id="n863-481"><circle cx="863" cy="481" r="5.5"/></g><g class="n" id="n877-470"><circle cx="877" cy="470" r="5.5"/></g><g class="n" id="n892-497"><circle cx="892" cy="497" r="5.5"/></g><g class="n" id="n835-504"><circle cx="835" cy="504" r="5.5"/></g><g class="n" id="n884-424"><circle cx="884" cy="424" r="5.5"/></g><g class="n" id="n898-415"><circle cx="898" cy="415" r="5.5"/></g><g class="n" id="n939-415"><circle cx="939" cy="415" r="5.5"/></g><g class="n" id="n961-417"><circle cx="961" cy="417" r="5.5"/></g><g class="n" id="n895-463"><circle cx="895" cy="463" r="5.5"/></g><g class="n" id="n912-443"><circle cx="912" cy="443" r="5.5"/></g><g class="n" id="n941-441"><circle cx="941" cy="441" r="5.5"/></g><g class="n" id="n909-477"><circle cx="909" cy="477" r="5.5"/></g><g class="n" id="n932-464"><circle cx="932" cy="464" r="5.5"/></g><g class="n" id="n856-420"><circle cx="856" cy="420" r="5.5"/></g><g class="n" id="n869-398"><circle cx="869" cy="398" r="5.5"/></g><g class="n" id="n909-397"><circle cx="909" cy="397" r="5.5"/></g><g class="n" id="n900-366"><circle cx="900" cy="366" r="5.5"/></g><g class="n" id="n928-350"><circle cx="928" cy="350" r="5.5"/></g><g class="n" id="n946-383"><circle cx="946" cy="383" r="5.5"/></g><g class="n" id="n962-360"><circle cx="962" cy="360" r="5.5"/></g><g class="n" id="n961-452"><circle cx="961" cy="452" r="5.5"/></g><g class="n" id="n949-494"><circle cx="949" cy="494" r="5.5"/></g><g class="n" id="n916-509"><circle cx="916" cy="509" r="5.5"/></g><g class="n" id="n899-535"><circle cx="899" cy="535" r="5.5"/></g><g class="n" id="n886-576"><circle cx="886" cy="576" r="5.5"/></g><g class="n" id="n887-525"><circle cx="887" cy="525" r="5.5"/></g><g class="n" id="n874-542"><circle cx="874" cy="542" r="5.5"/></g><g class="n" id="n861-510"><circle cx="861" cy="510" r="5.5"/></g><g class="n" id="n840-544"><circle cx="840" cy="544" r="5.5"/></g><g class="n" id="n891-615"><circle cx="891" cy="615" r="5.5"/></g><g class="n" id="n938-515"><circle cx="938" cy="515" r="5.5"/></g><g class="n" id="n934-544"><circle cx="934" cy="544" r="5.5"/></g><g class="n" id="n956-532"><circle cx="956" cy="532" r="5.5"/></g><g class="n" id="n915-559"><circle cx="915" cy="559" r="5.5"/></g><g class="n" id="n945-580"><circle cx="945" cy="580" r="5.5"/></g><g class="n" id="n963-560"><circle cx="963" cy="560" r="5.5"/></g><g class="n" id="n927-601"><circle cx="927" cy="601" r="5.5"/></g><g class="n" id="n917-624"><circle cx="917" cy="624" r="5.5"/></g><g class="n" id="n951-614"><circle cx="951" cy="614" r="5.5"/></g><g class="n" id="n883-643"><circle cx="883" cy="643" r="5.5"/></g><g class="n" id="n952-644"><circle cx="952" cy="644" r="5.5"/></g><g class="n" id="n921-649"><circle cx="921" cy="649" r="5.5"/></g><g class="n" id="n845-632"><circle cx="845" cy="632" r="5.5"/></g><g class="n" id="n858-648"><circle cx="858" cy="648" r="5.5"/></g><g class="n" id="n819-631"><circle cx="819" cy="631" r="5.5"/></g><g class="n" id="n797-648"><circle cx="797" cy="648" r="5.5"/></g><g class="n" id="n754-609"><circle cx="754" cy="609" r="5.5"/></g><g class="n" id="n722-652"><circle cx="722" cy="652" r="5.5"/></g><g class="n" id="n746-649"><circle cx="746" cy="649" r="5.5"/></g><g class="n" id="n795-603"><circle cx="795" cy="603" r="5.5"/></g><g class="n" id="n775-624"><circle cx="775" cy="624" r="5.5"/></g><g class="n" id="n791-615"><circle cx="791" cy="615" r="5.5"/></g><g class="n" id="n814-573"><circle cx="814" cy="573" r="5.5"/></g><g class="n" id="n840-562"><circle cx="840" cy="562" r="5.5"/></g><g class="n" id="n831-592"><circle cx="831" cy="592" r="5.5"/></g><g class="n" id="n844-613"><circle cx="844" cy="613" r="5.5"/></g><g class="n" id="n848-584"><circle cx="848" cy="584" r="5.5"/></g><g class="n" id="n741-596"><circle cx="741" cy="596" r="5.5"/></g><g class="n" id="n767-588"><circle cx="767" cy="588" r="5.5"/></g><g class="n" id="n790-560"><circle cx="790" cy="560" r="5.5"/></g><g class="n" id="n687-553"><circle cx="687" cy="553" r="5.5"/></g><g class="n" id="n728-564"><circle cx="728" cy="564" r="5.5"/></g><g class="n" id="n833-382"><circle cx="833" cy="382" r="5.5"/></g><g class="n" id="n875-378"><circle cx="875" cy="378" r="5.5"/></g>
</g>
<g id="solution"><path d="M93 729L150 684L192 644H239L278 653L311 640L364 661L391 648L513 610L595 590L656 572L688 553L753 535L760 498L800 462L810 406L833 381L876 378L889 283L923 237L903 179"/></g>
<g id="start"><circle cx="93" cy="729" r="19" fill="#006400"/></g>
<g id="goal"><circle cx="903" cy="179" r="18.3" fill="#000080"/></g>
</svg>
